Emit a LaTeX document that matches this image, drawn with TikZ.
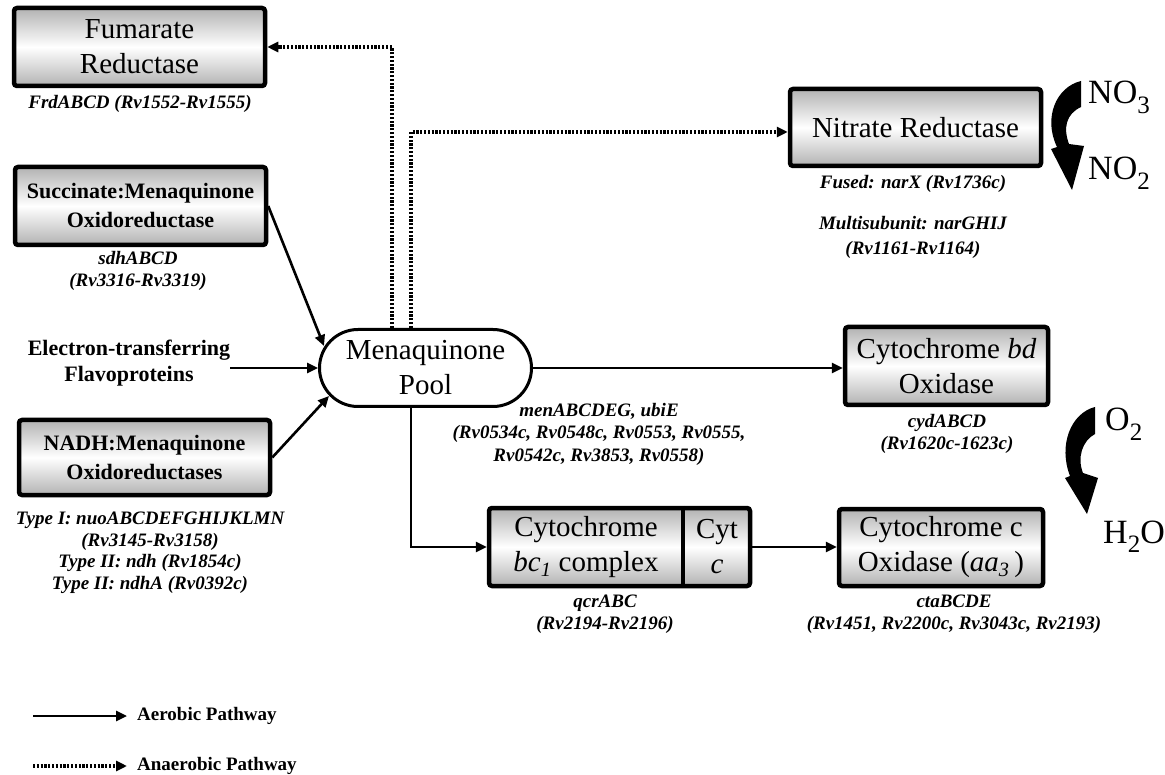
\documentclass[tikz,border=0pt]{standalone}
\usepackage{fontspec}
\setmainfont{Liberation Serif}
\usetikzlibrary{arrows.meta,calc}

\newcommand{\enzfont}{\fontsize{29}{35}\selectfont}
\newcommand{\enzbold}{\fontsize{22}{29}\selectfont\bfseries}
\newcommand{\genefont}{\fontsize{19}{21.5}\selectfont\bfseries\itshape}
\newcommand{\chemfont}{\fontsize{34}{38}\selectfont}
\newcommand{\chemsub}[1]{\raisebox{-0.28em}{\fontsize{25}{25}\selectfont #1}}

\begin{document}
\begin{tikzpicture}[x=1pt,y=-1pt,
    enzyme/.style={draw,line width=4.5pt,rounded corners=3pt,top color=gray!60,
      bottom color=gray!60,middle color=white,align=center,font=\enzfont,inner sep=0pt},
    genes/.style={align=center,font=\genefont,inner sep=0pt},
    aer/.style={-{Triangle[length=11pt,width=10pt]},line width=2.6pt},
    anaer/.style={aer,line width=4pt,dash pattern=on 2.2pt off 1.6pt},
    legend/.style={anchor=west,font=\fontsize{19}{21}\selectfont\bfseries,inner ysep=0pt,inner xsep=10pt},
    chem/.style={font=\chemfont,inner sep=0pt}]
  \useasboundingbox (0,0) rectangle (1165,775);
  % enzymes on the left
  \node[enzyme,minimum width=251,minimum height=78] (frd) at (139.5,47) {Fumarate\\Reductase};
  \node[genes] (frdlab) at (140,104) {FrdABCD (Rv1552-Rv1555)};
  \node[enzyme,font=\enzbold,minimum width=251,minimum height=78] (sdh) at (140.5,206) {Succinate:Menaquinone\\Oxidoreductase};
  \node[genes] (sdhlab) at (138,271) {sdhABCD\\(Rv3316-Rv3319)};
  \node[font=\fontsize{22}{26}\selectfont\bfseries,align=center,inner sep=0pt] (etf) at (129,363) {Electron-transferring\\Flavoproteins};
  \node[enzyme,font=\enzbold,minimum width=251,minimum height=75] (nadh) at (144.5,457.5) {NADH:Menaquinone\\Oxidoreductases};
  \node[genes] (nadhlab) at (150,553) {Type I: nuoABCDEFGHIJKLMN\\(Rv3145-Rv3158)\\Type II: ndh (Rv1854c)\\Type II: ndhA (Rv0392c)};
  % pool
  \node[draw,line width=3pt,fill=white,rounded corners=38.5pt,font=\enzfont,align=center,
    minimum height=77,minimum width=212,inner sep=0pt] (pool) at (425.5,368) {Menaquinone\\Pool};
  \coordinate (poolup) at ($(pool.west)+(6,-22)$);
  \coordinate (poollow) at ($(pool.west)+(11,28)$);
  \node[genes,font=\fontsize{19}{22.5}\selectfont\bfseries\itshape] (menlab) at (599,434) {menABCDEG, ubiE\\(Rv0534c, Rv0548c, Rv0553, Rv0555,\\Rv0542c, Rv3853, Rv0558)};
  % enzymes on the right
  \node[enzyme,minimum width=251,minimum height=77] (nar) at (915.5,127.5) {Nitrate Reductase};
  \node[genes] (narlab) at (913,184) {Fused: narX (Rv1736c)};
  \node[genes,font=\fontsize{19}{25}\selectfont\bfseries\itshape] (narlab2) at (913,237) {Multisubunit: narGHIJ\\(Rv1161-Rv1164)};
  \node[enzyme,minimum width=203,minimum height=78] (bd) at (946.5,366) {Cytochrome \textit{bd}\\Oxidase};
  \node[genes] (cydlab) at (947,434) {cydABCD\\(Rv1620c-1623c)};
  \node[enzyme,minimum width=261,minimum height=78] (bcone) at (619.5,547) {};
  \node[font=\enzfont,align=center,inner sep=0pt] (bctext) at (586,547) {Cytochrome\\\textit{bc}\textsubscript{\textit{1}} complex};
  \node[font=\enzfont,align=center,inner sep=0pt] (cytc) at (717,547) {Cyt\\\textit{c}};
  \coordinate (bcsplit) at (683,547);
  \draw[line width=4.5pt] (bcsplit |- bcone.north) -- (bcsplit |- bcone.south);
  \node[genes] (qcrlab) at (605,614) {qcrABC\\(Rv2194-Rv2196)};
  \node[enzyme,minimum width=204,minimum height=77] (cox) at (941,547.5) {Cytochrome c\\Oxidase (\textit{aa}\textsubscript{\textit{3}}\,)};
  \node[genes] (ctalab) at (954,614) {ctaBCDE\\(Rv1451, Rv2200c, Rv3043c, Rv2193)};
  % nitrate and oxygen
  \node[chem,anchor=base west] (nothree) at (1088,104) {NO\chemsub{3}};
  \node[chem,anchor=base west] (notwo) at (1088,180) {NO\chemsub{2}};
  \node[chem,anchor=base west] (otwo) at (1105,431) {O\chemsub{2}};
  \node[chem,anchor=base east] (water) at (1165,543) {H\chemsub{2}O};
  \fill (1081,81) .. controls (1056,87) and (1043,118) .. (1057,147) -- (1051,149) -- (1072,190)
    -- (1084,146) -- (1069,144) .. controls (1063,128) and (1066,114) .. (1081,107) -- cycle;
  \fill (1095,407) .. controls (1071,413) and (1058,445) .. (1070,476) -- (1065,478) -- (1087,514)
    -- (1098,478) -- (1083,473) .. controls (1077,458) and (1082,441) .. (1095,434) -- cycle;
  % pathways
  \coordinate (frdturn) at (392,47);
  \coordinate (spine) at (411,132);
  \draw[anaer] (frdturn |- pool.north) -- (frdturn) -- (frd.east);
  \draw[anaer] (spine |- pool.north) -- (spine) -- (nar.west |- spine);
  \draw[aer] (sdh.east) -- (poolup);
  \draw[aer] (etf.east |- pool.west) -- (pool.west);
  \draw[aer] (nadh.east) -- (poollow);
  \draw[aer] (pool.east) -- (pool.east -| bd.west);
  \draw[aer] (spine |- pool.south) -- (spine |- bcone.west) -- (bcone.west);
  \draw[aer] (bcone.east) -- (bcone.east -| cox.west);
  % legend
  \coordinate (aerfrom) at (33,716);
  \coordinate (anaerfrom) at (33,766);
  \node[legend] (aerlab) at (127,716) {Aerobic Pathway};
  \node[legend] (anaerlab) at (127,766) {Anaerobic Pathway};
  \draw[aer] (aerfrom) -- (aerlab.west);
  \draw[anaer] (anaerfrom) -- (anaerlab.west);
\end{tikzpicture}
\end{document}
